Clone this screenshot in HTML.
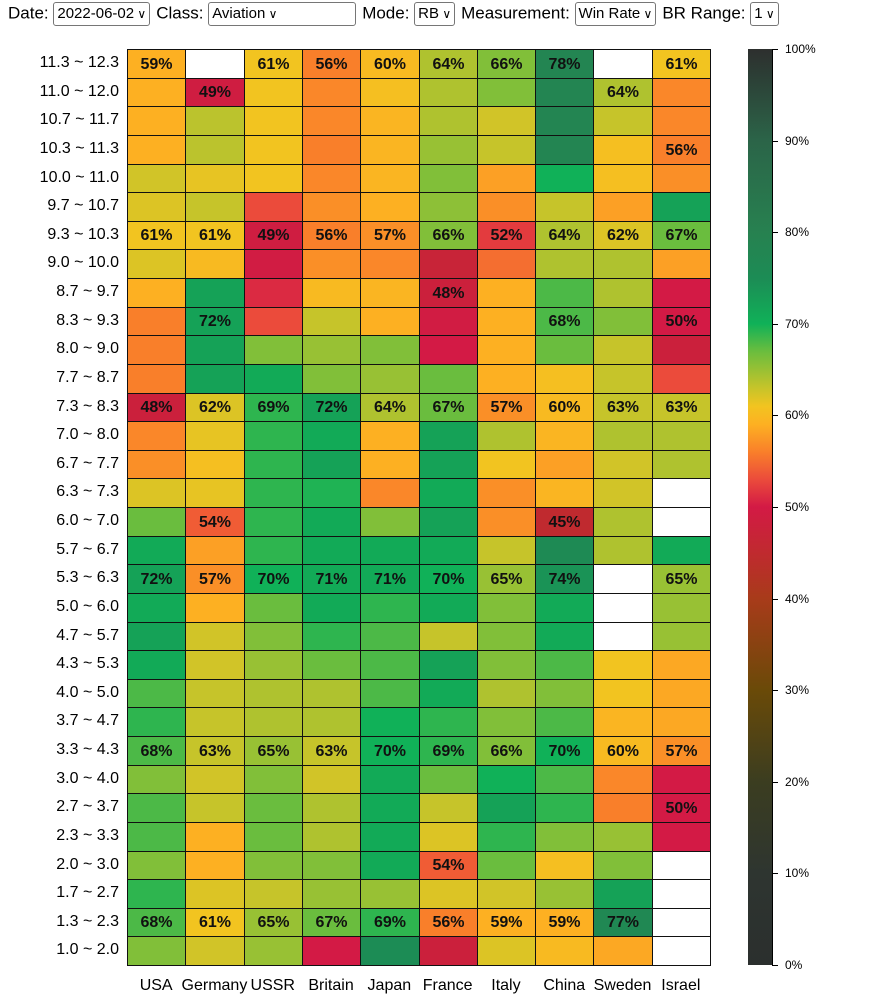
<!DOCTYPE html>
<html><head><meta charset="utf-8">
<style>
body{margin:0;background:#fff;font-family:"Liberation Sans",sans-serif;width:891px;height:999px;overflow:hidden;position:relative}
#hdr{position:absolute;top:2px;left:8px;font-size:17px;white-space:nowrap;color:#000}
.sel{display:inline-block;border:1px solid #767676;border-radius:3px;padding:1px 3px;font-size:15px;margin-right:6px;vertical-align:middle;height:20px;line-height:20px}
.sel:after{content:" \2228";font-size:12px}
.cell{position:absolute;box-sizing:border-box;border:1px solid #111;font-weight:bold;font-size:16px;text-align:center;color:#111}
.rl{position:absolute;right:772px;font-size:16px;text-align:right;white-space:nowrap}
.xl{position:absolute;top:977px;font-size:16px;text-align:center;width:70px}
.tk{position:absolute;left:785px;font-size:12px}
</style></head><body>
<div id="hdr">Date: <span class="sel">2022-06-02</span>Class: <span class="sel" style="width:140px">Aviation<span style="float:right"></span></span>Mode: <span class="sel">RB</span>Measurement: <span class="sel">Win Rate</span>BR Range: <span class="sel">1</span></div>
<div id="g"></div>
<div style="position:absolute;left:748px;top:49px;width:24px;height:916px;background:linear-gradient(to top,#2b2f2e 0%,#2e3530 10%,#3b3d20 20%,#6a4a08 30%,#a83b1a 40%,#c02a2f 45%,#d31a45 50%,#eb4b3b 53%,#f97f2a 56%,#fdb022 59%,#f2c420 61%,#c6c42a 63%,#6abd3e 67%,#10b158 70%,#1c8c55 75%,#278150 80%,#2b6448 90%,#2d2f2e 100%)"></div>
<div style="position:absolute;left:772px;top:49px;width:1px;height:917px;background:#000"></div>
<div id="cb"></div>
<script>
const rows=["11.3 ~ 12.3","11.0 ~ 12.0","10.7 ~ 11.7","10.3 ~ 11.3","10.0 ~ 11.0","9.7 ~ 10.7","9.3 ~ 10.3","9.0 ~ 10.0","8.7 ~ 9.7","8.3 ~ 9.3","8.0 ~ 9.0","7.7 ~ 8.7","7.3 ~ 8.3","7.0 ~ 8.0","6.7 ~ 7.7","6.3 ~ 7.3","6.0 ~ 7.0","5.7 ~ 6.7","5.3 ~ 6.3","5.0 ~ 6.0","4.7 ~ 5.7","4.3 ~ 5.3","4.0 ~ 5.0","3.7 ~ 4.7","3.3 ~ 4.3","3.0 ~ 4.0","2.7 ~ 3.7","2.3 ~ 3.3","2.0 ~ 3.0","1.7 ~ 2.7","1.3 ~ 2.3","1.0 ~ 2.0"];
const cols=["USA","Germany","USSR","Britain","Japan","France","Italy","China","Sweden","Israel"];
const N=null;
const V=[
[59,N,61,56,60,64,66,78,N,61],
[59,49,61,56.5,60.5,64,66,78,64,56.5],
[59,63.5,61,56.5,59.5,64,62.5,78,63,56.5],
[59,63.5,61,56,59.5,65,63,78,60.5,56],
[62.5,61.5,61,56.5,59.5,66,58,70,60.5,57],
[62,63,53,57,59,65.5,57,63,58,72],
[61,61,49,56,57,66,52,64,62,67],
[62,60,49.5,57,56.5,47,55,64,64,58],
[59,72,51,60,59.5,48,59,68,64,50],
[56,72,53,63,59,49.5,59,68,66,50],
[56,72,66,65,66,50,59,67,63,48],
[56,72,71,66,65,67,59,60.5,63,53],
[48,62,69,72,64,67,57,60,63,63],
[56.5,61.5,69,71,59,72,64,59.5,64,64],
[57,60.5,69,72,59,72,61,58,62.5,64],
[62,61.5,69,69.5,56.5,71,57,59.5,62.5,N],
[67,54,69,71,66,72,57,45,64,N],
[71,58,69,71,71,71,63,76,64,71],
[72,57,70,71,71,70,65,74,N,65],
[71,59,67,71,69,71,66,71,N,65],
[72,62.5,66,69,68,63,66,71,N,65],
[71,62.5,65,67,68,72,66,68,61,58.5],
[68,63,64,64,68,71,64,66,61,58.5],
[69,63,64,64,70,69,66,68,59.5,58.5],
[68,63,65,63,70,69,66,70,60,57],
[66,62.5,66,62.5,71,67,70,68,56.5,50],
[68,63,67,64,71,63,72,69,56,50],
[68,59,67,64,71,62,69,66,65,50],
[66,59,66,66,71,54,67,60.5,66,N],
[69,62,63,65,65,62,62.5,65,72,N],
[68,61,65,67,69,56,59,59,77,N],
[66,62.5,65,50,75,48,62,60,58.5,N]];
const labeled=[0,6,12,18,24,30];
const stops=[[0,"2b2f2e"],[10,"2e3530"],[20,"3b3d20"],[30,"6a4a08"],[40,"a83b1a"],[45,"c02a2f"],[50,"d31a45"],[53,"eb4b3b"],[56,"f97f2a"],[59,"fdb022"],[61,"f2c420"],[63,"c6c42a"],[67,"6abd3e"],[70,"10b158"],[75,"1c8c55"],[80,"278150"],[90,"2b6448"],[100,"2d2f2e"]];
function col(v){for(let i=0;i<stops.length-1;i++){const[a,ca]=stops[i],[b,cb]=stops[i+1];if(v>=a&&v<=b){const t=(v-a)/(b-a);let o="#";for(let k=0;k<3;k++){const x=parseInt(ca.substr(k*2,2),16),y=parseInt(cb.substr(k*2,2),16);o+=Math.round(x+(y-x)*t).toString(16).padStart(2,"0");}return o;}}return "#fff";}
const L=127,T=49,W=(710-127)/10,H=(965-49)/32;let h="";
rows.forEach((r,i)=>{h+=`<div class="rl" style="top:${T+i*H+5}px">${r}</div>`;
V[i].forEach((v,j)=>{const x=Math.round(L+j*W),x2=Math.round(L+(j+1)*W),y=Math.round(T+i*H),y2=Math.round(T+(i+1)*H);
const txt=(v!==N&&(labeled.includes(i)||[[1,1],[3,9],[1,8],[8,5],[9,1],[9,7],[9,9],[16,1],[16,7],[26,9],[28,5]].some(p=>p[0]==i&&p[1]==j)))?Math.round(v)+"%":"";
h+=`<div class="cell" style="left:${x}px;top:${y}px;width:${x2-x+1}px;height:${y2-y+1}px;line-height:${y2-y}px;background:${v===N?"#fff":col(v)}">${txt}</div>`;});});
cols.forEach((c,j)=>{h+=`<div class="xl" style="left:${L+j*W+W/2-35}px">${c}</div>`;});
for(let p=0;p<=100;p+=10){const y=965-p/100*916;h+=`<div style="position:absolute;left:772px;top:${y}px;width:6px;height:1px;background:#000"></div><div class="tk" style="top:${y-7}px">${p}%</div>`;}
document.getElementById("g").innerHTML=h;
</script>
</body></html>
